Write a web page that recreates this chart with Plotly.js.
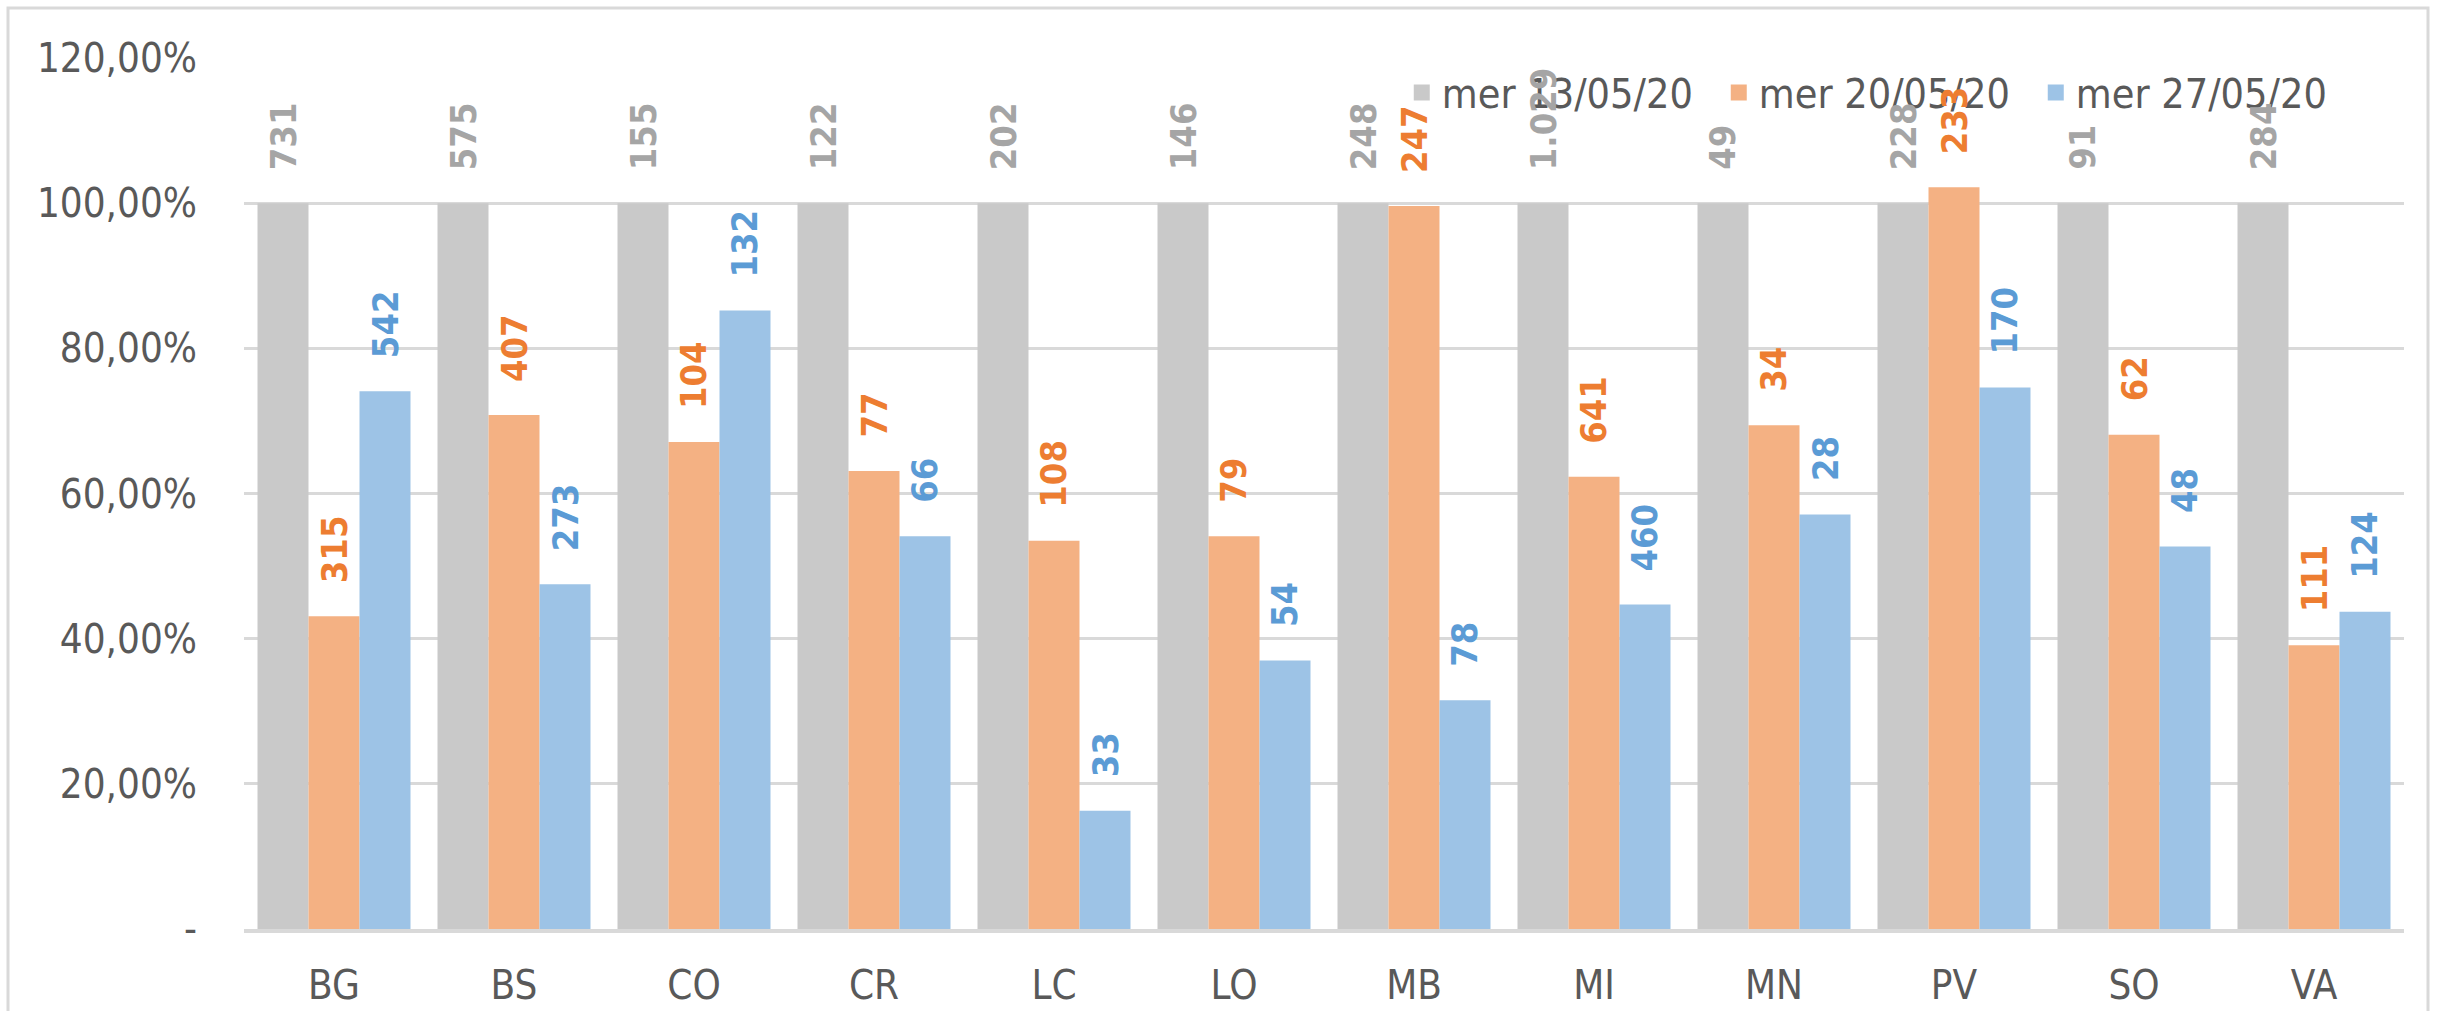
<!DOCTYPE html>
<html>
<head>
<meta charset="utf-8">
<script src="https://cdn.plot.ly/plotly-3.0.1.min.js"></script>
<style>html,body{margin:0;padding:0;background:#fff;}#chart{width:2440px;height:1011px;}</style>
</head>
<body>
<div id="chart"></div>
<script>
// ---- data ----
const categories = ['BG','BS','CO','CR','LC','LO','MB','MI','MN','PV','SO','VA'];
const seriesNames = ['mer 13/05/20','mer 20/05/20','mer 27/05/20'];
const grayPct   = [100,100,100,100,100,100,100,100,100,100,100,100];
const orangePct = [43.1,70.8,67.1,63.1,53.5,54.1,99.6,62.3,69.4,102.2,68.1,39.1];
const bluePct   = [74.1,47.5,85.2,54.1,16.3,37.0,31.5,44.7,57.1,74.6,52.7,43.7];
const grayLabels   = ['731','575','155','122','202','146','248','1.029','49','228','91','284'];
const orangeLabels = ['315','407','104','77','108','79','247','641','34','233','62','111'];
const blueLabels   = ['542','273','132','66','33','54','78','460','28','170','48','124'];
const yTickVals  = [0,20,40,60,80,100,120];
const yTickText  = ['-','20,00%','40,00%','60,00%','80,00%','100,00%','120,00%'];

// ---- styles ----
const W = 2440, H = 1011;
const M = {l:244, r:36, t:58, b:82, autoexpand:false};
const barColors = ['#C9C9C9','#F4B183','#9DC3E6'];
const labelColors = ['#A5A5A5','#ED7D31','#5B9BD5'];
const axisFont = 'Liberation Sans Narrow, DejaVu Sans Condensed, Arial Narrow, sans-serif';
const labelFont = 'DejaVu Sans Condensed, DejaVu Sans, Verdana, sans-serif';
const bargap = 0.15;

const values = [grayPct, orangePct, bluePct];
const labels = [grayLabels, orangeLabels, blueLabels];

const traces = values.map((v,i)=>({
  type:'bar', name: seriesNames[i], x: categories, y: v,
  marker:{color: barColors[i]}, hoverinfo:'skip', showlegend:false
}));
// legend-only entries (square swatches)
seriesNames.forEach((n,i)=>{
  traces.push({
    type:'scatter', mode:'markers', name:n, x:[null], y:[null],
    marker:{symbol:'square', size:16, color:barColors[i]}, showlegend:true, hoverinfo:'skip'
  });
});

const plotW = W - M.l - M.r;
const barW = plotW / categories.length * (1 - bargap) / 3;

const annotations = [];
labels.forEach((arr,i)=>{
  arr.forEach((t,j)=>{
    annotations.push({
      x: categories[j], y: values[i][j], xref:'x', yref:'y',
      text: t, showarrow:false, textangle:-90,
      xanchor:'center', yanchor:'bottom',
      xshift: (i-1)*barW, yshift: 31,
      font:{family: labelFont, size:36, color: labelColors[i], weight:'bold'}
    });
  });
});

const layout = {
  width: W, height: H,
  margin: M,
  paper_bgcolor:'#ffffff', plot_bgcolor:'#ffffff',
  barmode:'group', bargap: bargap, bargroupgap: 0,
  showlegend:true,
  legend:{
    orientation:'h', x:0.536, y:0.96, xanchor:'left', yanchor:'middle',
    bgcolor:'rgba(0,0,0,0)', font:{family:axisFont, size:41, color:'#595959'},
    entrywidth:272, entrywidthmode:'pixels', traceorder:'normal', itemsizing:'trace'
  },
  xaxis:{
    type:'category', showgrid:false, zeroline:false,
    showline:true, linecolor:'#D9D9D9', linewidth:4,
    ticks:'', ticklabelstandoff:18,
    tickfont:{family:axisFont, size:40, color:'#595959'}
  },
  yaxis:{
    range:[0,120], tickvals:yTickVals, ticktext:yTickText,
    showgrid:true, gridcolor:'#D9D9D9', gridwidth:3, zeroline:false,
    showline:false, ticks:'', ticklabelstandoff:46,
    tickfont:{family:axisFont, size:40, color:'#595959'}
  },
  annotations: annotations,
  shapes:[{
    type:'rect', xref:'paper', yref:'paper',
    x0:(8-M.l)/plotW, x1:(2428-M.l)/plotW,
    y0:-0.2, y1:(H-M.b-8)/(H-M.t-M.b),
    line:{color:'#D9D9D9', width:3}, fillcolor:'rgba(0,0,0,0)', layer:'below'
  }]
};

Plotly.newPlot('chart', traces, layout, {displayModeBar:false, staticPlot:true});
</script>
</body>
</html>
